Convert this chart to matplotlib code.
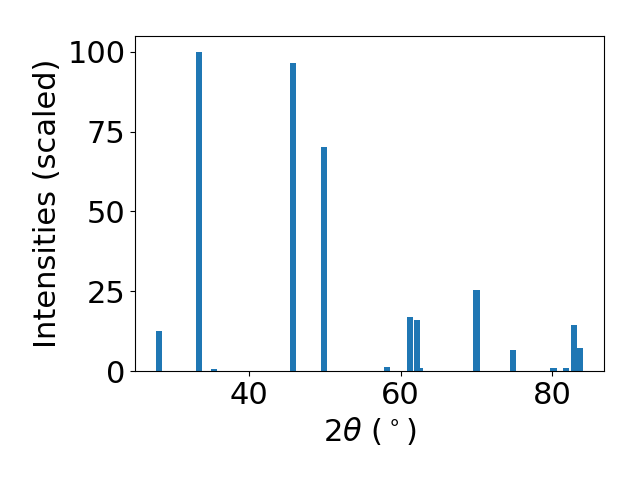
import matplotlib
matplotlib.use("Agg")
import matplotlib.pyplot as plt

# peak positions (2theta, deg) and scaled intensities
two_theta = [28.17, 33.34, 35.32, 45.79, 49.89, 58.24, 61.28, 62.2, 62.6,
             70.03, 74.8, 80.2, 81.8, 82.87, 83.67]
intensity = [12.5, 100.0, 0.6, 96.5, 70.2, 1.2, 16.8, 15.9, 0.85,
             25.3, 6.5, 0.85, 0.85, 14.3, 7.1]

plt.rcParams["font.size"] = 22

fig, ax = plt.subplots(figsize=(6.4, 4.8), dpi=100)
ax.bar(two_theta, intensity, width=0.8)
ax.set_xlabel(r"2$\theta$ ($^\circ$)")
ax.set_ylabel("Intensities (scaled)")
ax.set_yticks([0, 25, 50, 75, 100])
fig.subplots_adjust(left=0.211, right=0.944, top=0.925, bottom=0.227)
fig.savefig("out.png")
